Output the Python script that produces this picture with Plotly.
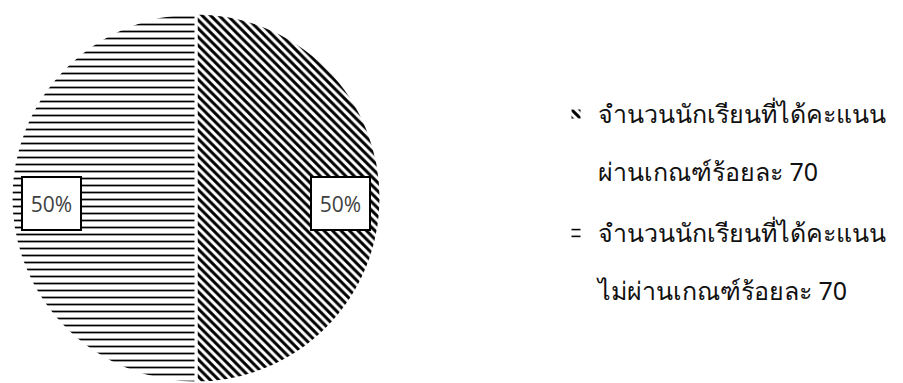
import math
import plotly.graph_objects as go

line1 = ["จำนวนนักเรียนที่ได้คะแนน", "จำนวนนักเรียนที่ได้คะแนน"]
line2 = ["ผ่านเกณฑ์ร้อยละ 70", "ไม่ผ่านเกณฑ์ร้อยละ 70"]
values = [50, 50]
patterns = ["\\", "-"]

S = '<span style="font-size:25px">{}</span>'
labels = [
    S.format(line1[0]) + "<br><br>" + S.format(line2[0]) + "<br>",
    S.format(line1[1]) + "<br><br>" + S.format(line2[1]),
]

W, H = 903, 383
dom_x = [11 / W, 381 / W]
dom_y = [0.0, 370 / H]

fig = go.Figure()
fig.add_trace(go.Pie(
    labels=labels,
    values=values,
    sort=False,
    direction="clockwise",
    rotation=0,
    domain=dict(x=dom_x, y=dom_y),
    textinfo="none",
    hoverinfo="percent",
    marker=dict(
        colors=["white", "white"],
        line=dict(color="white", width=3),
        pattern=dict(shape=patterns, fgcolor="black", bgcolor="white",
                     size=[6, 7], solidity=[0.5, 0.25], fillmode="replace"),
    ),
    showlegend=True,
))

# percentage labels placed from slice geometry
total = sum(values)
cx_px = (dom_x[0] + dom_x[1]) / 2 * W
cy_px = (1 - (dom_y[0] + dom_y[1]) / 2) * H
r_px = min((dom_x[1] - dom_x[0]) * W, (dom_y[1] - dom_y[0]) * H) / 2
start = 90.0
for v in values:
    span = 360.0 * v / total
    mid = math.radians(start - span / 2)
    start -= span
    px = cx_px + 0.78 * r_px * math.cos(mid)
    py = cy_px - 0.78 * r_px * math.sin(mid) + 5.5
    fig.add_annotation(
        x=px / W, y=1 - py / H, xref="paper", yref="paper",
        xanchor="center", yanchor="middle",
        text=f"{round(100 * v / total)}%", showarrow=False,
        font=dict(family="Open Sans", size=21, color="#404040"),
        bgcolor="white", bordercolor="black", borderwidth=2,
        width=55, height=49,
    )

fig.update_layout(
    width=W, height=H,
    margin=dict(l=0, r=0, t=0, b=0),
    paper_bgcolor="white",
    plot_bgcolor="white",
    legend=dict(
        x=554 / W, y=1 - 93 / H, xanchor="left", yanchor="top",
        font=dict(family="Noto Sans", size=22.3, color="#111111"),
        itemwidth=34,
        valign="top",
        bgcolor="rgba(0,0,0,0)",
    ),
)

fig.write_html("out.html")
